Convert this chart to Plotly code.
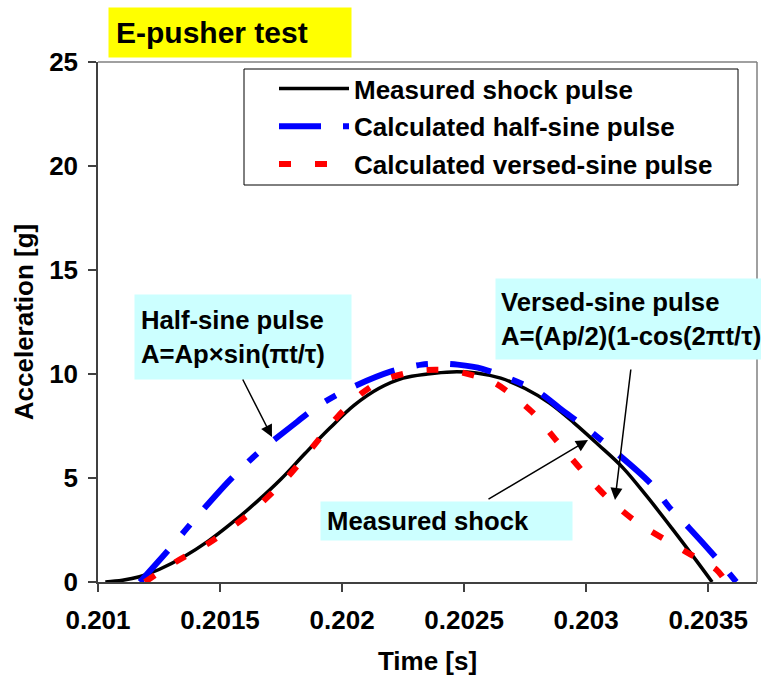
import plotly.graph_objects as go

# ---------------- data ----------------
t_measured = [0.20103, 0.20110, 0.20117, 0.20125, 0.20135, 0.20145, 0.20155,
              0.20165, 0.20175, 0.20185, 0.20195, 0.20205, 0.20215, 0.20225,
              0.20235, 0.20245, 0.20255, 0.20265, 0.20275, 0.20285, 0.20295,
              0.20305, 0.20315, 0.20325, 0.20335, 0.20345, 0.203516]
a_measured = [0.0, 0.08, 0.25, 0.6, 1.2, 1.95, 2.85,
              3.85, 4.95, 6.2, 7.4, 8.5, 9.3, 9.8,
              10.0, 10.1, 10.05, 9.8, 9.3, 8.6, 7.65,
              6.6, 5.5, 4.1, 2.6, 1.05, 0.0]

t_halfsine = [0.201172, 0.201286, 0.201417, 0.20154, 0.201655, 0.201794, 0.2019,
              0.202011, 0.202195, 0.202326, 0.202399, 0.202473, 0.202575, 0.202796,
              0.202903, 0.203001, 0.203259, 0.20334, 0.203422, 0.203545, 0.203615]
a_halfsine = [0.0, 1.5, 3.3, 4.9, 6.2, 7.5, 8.45,
              9.2, 10.1, 10.45, 10.5, 10.45, 10.25, 9.2,
              8.25, 7.4, 4.8, 3.6, 2.6, 1.0, 0.0]

t_versed = [0.201192, 0.201323, 0.201458, 0.201622, 0.201773, 0.20188, 0.201978,
            0.202084, 0.202166, 0.202309, 0.202383, 0.202457, 0.20262, 0.202776,
            0.202878, 0.20298, 0.203083, 0.203205, 0.203402, 0.203533, 0.203574]
a_versed = [0.0, 1.0, 1.9, 3.3, 5.0, 6.5, 7.9,
            9.1, 9.7, 10.15, 10.2, 10.15, 9.6, 8.2,
            6.8, 5.4, 4.1, 2.9, 1.5, 0.6, 0.0]

series_names = ["Measured shock pulse", "Calculated half-sine pulse",
                "Calculated versed-sine pulse"]

x_tickvals = [0.201, 0.2015, 0.202, 0.2025, 0.203, 0.2035]
x_ticktext = ["0.201", "0.2015", "0.202", "0.2025", "0.203", "0.2035"]
y_tickvals = [0, 5, 10, 15, 20, 25]

title_text = "E-pusher test"
x_title = "Time [s]"
y_title = "Acceleration [g]"
note_half = "Half-sine pulse<br>A=Ap×sin(πt/τ)"
note_versed = "Versed-sine pulse<br>A=(Ap/2)(1-cos(2πt/τ)"
note_measured = "Measured shock"

# ---------------- figure ----------------
FONT = "Liberation Sans, Arial, sans-serif"
W, H = 761, 677
ML, MR, MT, MB = 98, 4, 62, 95
PW = W - ML - MR
PH = H - MT - MB


def fx(px):
    return (px - ML) / PW


def fy(py):
    return (H - MB - py) / PH


fig = go.Figure()
fig.add_trace(go.Scatter(
    x=t_measured, y=a_measured, mode="lines", name=series_names[0],
    line=dict(color="black", width=3.5, shape="spline", smoothing=1.0),
    legendgroup="a"))
fig.add_trace(go.Scatter(
    x=t_halfsine, y=a_halfsine, mode="lines", name=series_names[1],
    line=dict(color="#0000FF", width=6, dash="42px,22px,12px,22px",
              shape="spline", smoothing=0.8),
    legendgroup="b"))
fig.add_trace(go.Scatter(
    x=t_versed, y=a_versed, mode="lines", name=series_names[2],
    line=dict(color="#FF0000", width=6, dash="12px,24px",
              shape="spline", smoothing=0.8),
    legendgroup="c"))

axis_font = dict(family=FONT, size=26, color="black", weight="bold")
note_font = dict(family=FONT, size=25.7, color="black", weight="bold")

fig.update_layout(
    width=W, height=H,
    margin=dict(l=ML, r=MR, t=MT, b=MB),
    paper_bgcolor="white", plot_bgcolor="white",
    font=dict(family=FONT, size=26, color="black", weight="bold"),
    showlegend=True,
    legend=dict(
        x=fx(274), y=fy(65), xanchor="left", yanchor="top",
        bgcolor="rgba(0,0,0,0)", borderwidth=0,
        font=axis_font, itemwidth=70, tracegroupgap=1,
    ),
    xaxis=dict(
        range=[0.201, 0.2037], tickvals=x_tickvals, ticktext=x_ticktext,
        ticks="outside", ticklen=8, tickcolor="#404040", tickwidth=1.5,
        showline=True, linecolor="#404040", linewidth=1.5,
        showgrid=False, zeroline=False, tickfont=axis_font,
        ticklabelstandoff=6,
        title=dict(text=x_title, font=axis_font, standoff=18),
    ),
    yaxis=dict(
        range=[0, 25], tickvals=y_tickvals,
        ticks="outside", ticklen=8, tickcolor="#404040", tickwidth=1.5,
        showline=True, linecolor="#404040", linewidth=1.5,
        showgrid=False, zeroline=False, tickfont=axis_font,
        ticklabelstandoff=5,
        title=dict(text=y_title, font=axis_font, standoff=8),
    ),
)

# top and right frame lines
fig.add_shape(type="line", xref="paper", yref="paper", x0=0, x1=1, y0=1, y1=1,
              line=dict(color="#808080", width=1.5))
fig.add_shape(type="line", xref="paper", yref="paper", x0=1, x1=1, y0=0, y1=1,
              line=dict(color="#808080", width=1.5))

# legend frame
fig.add_shape(type="rect", xref="paper", yref="paper",
              x0=fx(244), x1=fx(738), y0=fy(185), y1=fy(69),
              fillcolor="white", line=dict(color="black", width=1), layer="above")

# title box
fig.add_annotation(
    text=title_text, xref="paper", yref="paper", x=fx(108), y=fy(7),
    xanchor="left", yanchor="top", showarrow=False, align="left",
    width=228, height=35, borderpad=7, bgcolor="#FFFF00",
    font=dict(family=FONT, size=30, color="black", weight="bold"))

# text boxes
fig.add_annotation(
    text=note_half, xref="paper", yref="paper", x=fx(134), y=fy(294),
    xanchor="left", yanchor="top", showarrow=False, align="left",
    width=204, height=72, borderpad=6, bgcolor="#CCFFFF", font=note_font)
fig.add_annotation(
    text=note_versed, xref="paper", yref="paper", x=fx(495), y=fy(278),
    xanchor="left", yanchor="top", showarrow=False, align="left",
    width=262, height=70, borderpad=5, bgcolor="#CCFFFF", font=note_font)
fig.add_annotation(
    text=note_measured, xref="paper", yref="paper", x=fx(320), y=fy(501),
    xanchor="left", yanchor="top", showarrow=False, align="left",
    width=239, height=26, borderpad=6, bgcolor="#CCFFFF", font=note_font)

# arrows
arrow_style = dict(showarrow=True, arrowhead=2, arrowsize=1.6, arrowwidth=1.5,
                   arrowcolor="black", text="", standoff=0)
fig.add_annotation(x=fx(272), y=fy(437), xref="paper", yref="paper",
                   ax=-30, ay=-59, **arrow_style)
fig.add_annotation(x=fx(615), y=fy(500), xref="paper", yref="paper",
                   ax=16, ay=-132, **arrow_style)
fig.add_annotation(x=fx(588), y=fy(440), xref="paper", yref="paper",
                   ax=-101, ay=60, **arrow_style)

fig.write_html("out.html")
